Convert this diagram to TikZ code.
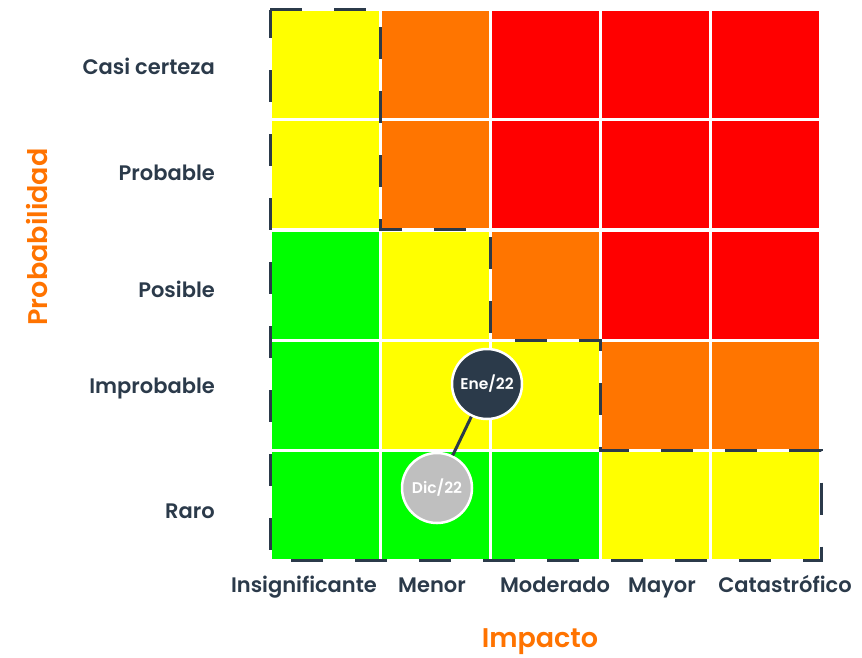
\documentclass[tikz,border=0pt]{standalone}
\usepackage{fontspec}
\setmainfont{Poppins}[BoldFont={Poppins SemiBold}]
\usetikzlibrary{positioning}

\definecolor{riskY}{HTML}{FFFF00}
\definecolor{riskO}{HTML}{FF7500}
\definecolor{riskR}{HTML}{FF0000}
\definecolor{riskG}{HTML}{00FF00}
\definecolor{slate}{HTML}{2B3A4A}
\definecolor{accent}{HTML}{FF7300}
\definecolor{pastgrey}{HTML}{BFBFBF}

\begin{document}
\begin{tikzpicture}[%
		x=1pt,
		y=-1pt,
		cell/.style={%
			minimum width=107pt,
			minimum height=107pt,
			inner sep=0pt
		},
		rowlabel/.style={%
			anchor=base east,
			inner sep=0pt,
			text=slate,
			font=\bfseries\fontsize{21}{24}\selectfont
		},
		collabel/.style={%
			anchor=base,
			inner sep=0pt,
			text=slate,
			font=\bfseries\fontsize{21}{24}\selectfont
		},
		axislabel/.style={%
			text=accent,
			font=\bfseries\fontsize{27}{30}\selectfont
		},
		period/.style={%
			circle,
			draw=white,
			line width=2.5pt,
			minimum size=70pt,
			inner sep=0pt,
			text=white,
			font=\bfseries\fontsize{15.5}{18}\selectfont
		},
		zone/.style={%
			draw=slate,
			line width=3pt,
			dash pattern=on 32pt off 32pt
		},
		link/.style={%
			draw=slate,
			line width=3pt
		}
		]
		\useasboundingbox (0,0) rectangle (862,657);

		% matrix cells, row 0 is the top row
		\foreach \row/\colors in {0/{Y,O,R,R,R},1/{Y,O,R,R,R},2/{G,Y,O,R,R},3/{G,Y,Y,O,O},4/{G,G,G,Y,Y}} {
			\foreach \c [count=\col from 0] in \colors {
				\node[cell, fill=risk\c] (cell-\row-\col) at ({325.1+110.2*\col},{64.6+110.2*\row}) {};
			}
		}

		% low risk zone
		\draw[zone] (270,9.5) -- (380.2,9.5) -- (380.2,229.9) -- (490.4,229.9) -- (490.4,340.1)
			-- (600.6,340.1) -- (600.6,450.3) -- (821,450.3) -- (821,560.5) -- (270,560.5) -- cycle;

		% probability levels
		\node[rowlabel] (casi)   at (215,74)  {Casi certeza};
		\node[rowlabel] (prob)   at (215,180) {Probable};
		\node[rowlabel] (posi)   at (215,297) {Posible};
		\node[rowlabel] (impr)   at (215,393) {Improbable};
		\node[rowlabel] (raro)   at (215,518) {Raro};

		% impact levels
		\node[collabel] (insig)  at (304,592) {Insignificante};
		\node[collabel] (menor)  at (432,592) {Menor};
		\node[collabel] (moder)  at (555,592) {Moderado};
		\node[collabel] (mayor)  at (662,592) {Mayor};
		\node[collabel] (catas)  at (785,592) {Catastrófico};

		\node[axislabel, rotate=90] (probab) at (37,237) {Probabilidad};
		\node[axislabel, anchor=base, inner sep=0pt] (impac) at (540,647) {Impacto};

		% evolution
		\node[period, fill=slate]    (ene) at (487,384) {Ene/22};
		\node[period, fill=pastgrey] (dic) at (437,488) {Dic/22};
		\draw[link] (ene) -- (dic);
		\end{tikzpicture}
\end{document}
